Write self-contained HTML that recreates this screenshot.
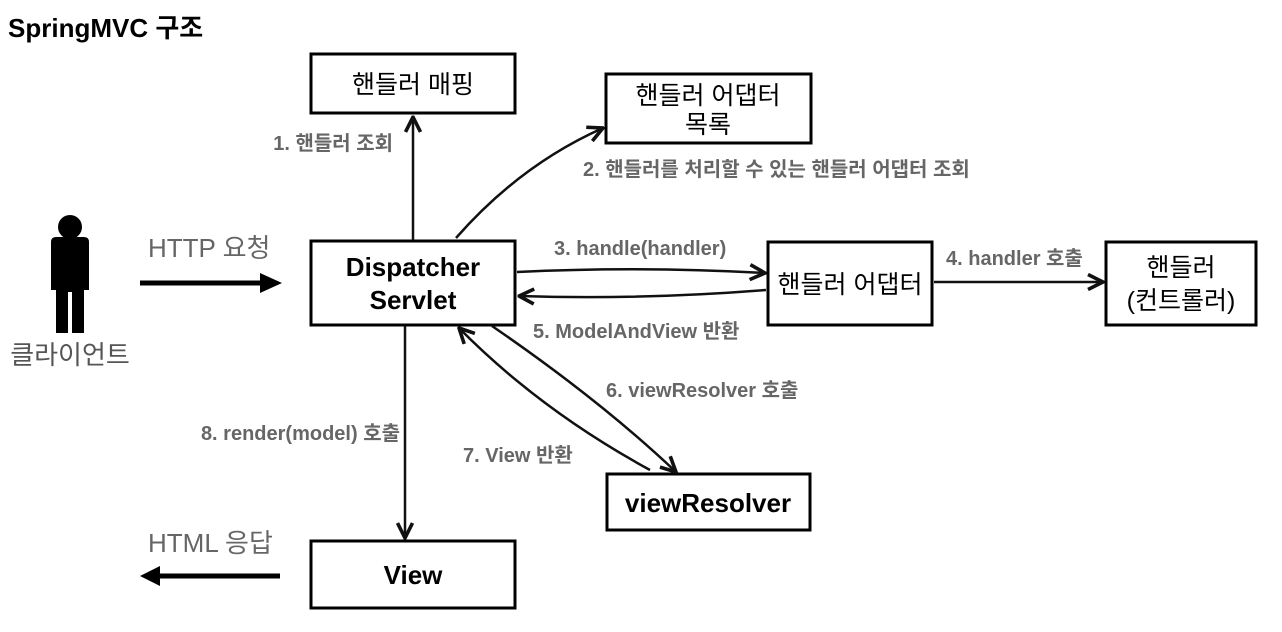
<!DOCTYPE html>
<html><head><meta charset="utf-8"><style>
html,body{margin:0;padding:0;background:#fff;}
svg{display:block;}
text{font-family:"Liberation Sans","Noto Sans CJK KR",sans-serif;}
.box{fill:#fff;stroke:#000;stroke-width:3;}
.bt{font-size:25px;fill:#000;text-anchor:middle;}
.btb{font-size:26px;fill:#000;text-anchor:middle;font-weight:bold;}
.lb{font-size:20px;fill:#666;font-weight:bold;}
.ln{stroke:#111;stroke-width:2.5;fill:none;}
</style></head><body>
<svg width="1282" height="632" viewBox="0 0 1282 632" xmlns="http://www.w3.org/2000/svg">
<defs>
<marker id="a" viewBox="0 0 12 12" refX="11" refY="6" markerWidth="18" markerHeight="18" markerUnits="userSpaceOnUse" orient="auto">
<path d="M1,1 L11,6 L1,11" fill="none" stroke="#111" stroke-width="2.4"/>
</marker>
</defs>
<text x="8" y="37" style="font-size:26px;font-weight:bold;fill:#000">SpringMVC 구조</text>

<rect class="box" x="311" y="54" width="204" height="59"/>
<text class="bt" x="413" y="93">핸들러 매핑</text>
<rect class="box" x="606" y="74" width="205" height="69"/>
<text class="bt" x="708" y="104">핸들러 어댑터</text>
<text class="bt" x="708" y="133">목록</text>
<rect class="box" x="311" y="241" width="204" height="84"/>
<text class="btb" x="413" y="276">Dispatcher</text>
<text class="btb" x="413" y="309">Servlet</text>
<rect class="box" x="768" y="242" width="164" height="83"/>
<text class="bt" x="850" y="293">핸들러 어댑터</text>
<rect class="box" x="1106" y="242" width="150" height="83"/>
<text class="bt" x="1181" y="276">핸들러</text>
<text class="bt" x="1181" y="309">(컨트롤러)</text>
<rect class="box" x="607" y="474" width="203" height="56"/>
<text class="btb" x="708" y="512">viewResolver</text>
<rect class="box" x="311" y="541" width="204" height="67"/>
<text class="btb" x="413" y="584">View</text>

<circle cx="70" cy="227" r="12" fill="#000"/>
<path d="M51,242 Q51,237 56,237 L84,237 Q89,237 89,242 L89,290 L84,290 L84,333 L72,333 L72,292 L68,292 L68,333 L56,333 L56,290 L51,290 Z" fill="#000"/>
<text x="70" y="364" style="font-size:26px;fill:#555;text-anchor:middle">클라이언트</text>

<text x="148" y="257" style="font-size:26px;fill:#666">HTTP 요청</text>
<line x1="140" y1="283" x2="262" y2="283" stroke="#000" stroke-width="5"/>
<polygon points="260,273 282,283 260,293" fill="#000"/>
<text x="148" y="552" style="font-size:26px;fill:#666">HTML 응답</text>
<line x1="280" y1="576" x2="158" y2="576" stroke="#000" stroke-width="5"/>
<polygon points="160,566 140,576 160,586" fill="#000"/>

<path class="ln" d="M413,240 L413,117" marker-end="url(#a)"/>
<text class="lb" x="393" y="150" text-anchor="end">1. 핸들러 조회</text>
<path class="ln" d="M456,238 Q520,165 603,128" marker-end="url(#a)"/>
<text class="lb" x="583" y="176">2. 핸들러를 처리할 수 있는 핸들러 어댑터 조회</text>
<path class="ln" d="M517,272 Q640,266 765,273" marker-end="url(#a)"/>
<text class="lb" x="554" y="255">3. handle(handler)</text>
<path class="ln" d="M766,290 Q640,300 519,296" marker-end="url(#a)"/>
<text class="lb" x="533" y="338">5. ModelAndView 반환</text>
<path class="ln" d="M934,282 L1103,282" marker-end="url(#a)"/>
<text class="lb" x="946" y="265">4. handler 호출</text>
<path class="ln" d="M492,326 Q600,400 676,472" marker-end="url(#a)"/>
<text class="lb" x="606" y="397">6. viewResolver 호출</text>
<path class="ln" d="M650,470 Q540,410 459,328" marker-end="url(#a)"/>
<text class="lb" x="463" y="462">7. View 반환</text>
<path class="ln" d="M405,326 L405,538" marker-end="url(#a)"/>
<text class="lb" x="400" y="440" text-anchor="end">8. render(model) 호출</text>
</svg>
</body></html>
